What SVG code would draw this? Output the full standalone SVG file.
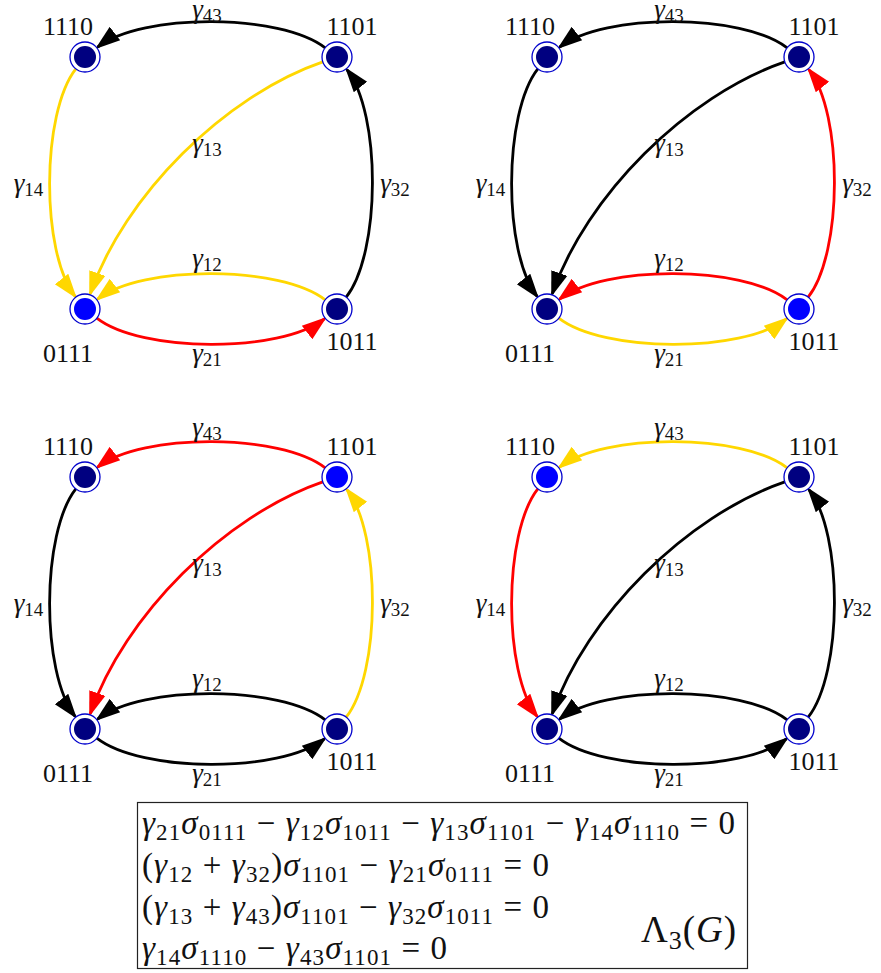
<svg xmlns="http://www.w3.org/2000/svg" width="881" height="973" viewBox="0 0 881 973">
<style>
.e{fill:none;stroke-width:2.8}
.k{stroke:#000}.r{stroke:#FF0000}.y{stroke:#FFD700}
.k{marker-end:url(#ah-k)}.r{marker-end:url(#ah-r)}.y{marker-end:url(#ah-y)}
.ring{fill:#fff;stroke:#0000CD;stroke-width:1.3}
.dot{fill:#000080}.hl{fill:#0000FF}
.nl{font-family:"Liberation Serif","Times New Roman",serif;font-size:26px;text-anchor:middle;fill:#111}
.el{font-family:"Liberation Serif","Times New Roman",serif;font-size:27px;text-anchor:middle;fill:#111}
.i{font-style:italic}
.sb{font-size:19px}
.eq{font-family:"Liberation Serif","Times New Roman",serif;font-size:33px;fill:#111}
.es{font-size:23px}
</style>
<defs>
<marker id="ah-k" markerUnits="userSpaceOnUse" markerWidth="28" markerHeight="20" viewBox="0 0 28 20" refX="22" refY="10" orient="auto"><path d="M0,1.5 L25,10 L0,18.5 Z" fill="#000"/></marker>
<marker id="ah-r" markerUnits="userSpaceOnUse" markerWidth="28" markerHeight="20" viewBox="0 0 28 20" refX="22" refY="10" orient="auto"><path d="M0,1.5 L25,10 L0,18.5 Z" fill="#FF0000"/></marker>
<marker id="ah-y" markerUnits="userSpaceOnUse" markerWidth="28" markerHeight="20" viewBox="0 0 28 20" refX="22" refY="10" orient="auto"><path d="M0,1.5 L25,10 L0,18.5 Z" fill="#FFD700"/></marker>
</defs>
<rect width="881" height="973" fill="#fff"/>

<!-- Panel top-left -->
<g id="panel-tl">
<g id="tl-connectors">
<path class="e k" d="M325.2,47.8 C281.1,13.3 141.7,12.7 97.6,47.1"/>
<path class="e y" d="M322.8,61.9 C224.5,95.8 124.1,195.6 90.2,293.9"/>
<path class="e y" d="M75.8,68.8 C41.3,113 40.7,252.3 75.1,296.4"/>
<path class="e k" d="M346.2,297.2 C380.7,253.1 381.4,113.7 346.9,69.6"/>
<path class="e y" d="M325.2,299.8 C281.1,265.3 141.7,264.7 97.6,299.1"/>
<path class="e r" d="M96.8,318.2 C141,352.7 280.3,353.4 324.4,318.9"/>
</g>
<g id="tl-edge-labels">
<text class="el" x="207" y="18"><tspan class="i">γ</tspan><tspan class="sb" dy="4">43</tspan></text>
<text class="el" x="207" y="151.5"><tspan class="i">γ</tspan><tspan class="sb" dy="4">13</tspan></text>
<text class="el" x="28.5" y="191.5"><tspan class="i">γ</tspan><tspan class="sb" dy="4">14</tspan></text>
<text class="el" x="395" y="192"><tspan class="i">γ</tspan><tspan class="sb" dy="4">32</tspan></text>
<text class="el" x="207" y="266.5"><tspan class="i">γ</tspan><tspan class="sb" dy="4">12</tspan></text>
<text class="el" x="207" y="361.5"><tspan class="i">γ</tspan><tspan class="sb" dy="4">21</tspan></text>
</g>
<g id="tl-n1110"><circle class="ring" cx="85" cy="57" r="15"/><circle class="dot" cx="85" cy="57" r="11"/><text class="nl" x="68" y="35">1110</text></g>
<g id="tl-n1101"><circle class="ring" cx="337" cy="57" r="15"/><circle class="dot" cx="337" cy="57" r="11"/><text class="nl" x="352" y="35">1101</text></g>
<g id="tl-n0111"><circle class="ring" cx="85" cy="309" r="15"/><circle class="hl" cx="85" cy="309" r="11"/><text class="nl" x="68" y="362">0111</text></g>
<g id="tl-n1011"><circle class="ring" cx="337" cy="309" r="15"/><circle class="dot" cx="337" cy="309" r="11"/><text class="nl" x="352" y="350">1011</text></g>
</g>

<!-- Panel top-right -->
<g id="panel-tr" transform="translate(462,0)">
<g id="tr-connectors">
<path class="e k" d="M325.2,47.8 C281.1,13.3 141.7,12.7 97.6,47.1"/>
<path class="e k" d="M322.8,61.9 C224.5,95.8 124.1,195.6 90.2,293.9"/>
<path class="e k" d="M75.8,68.8 C41.3,113 40.7,252.3 75.1,296.4"/>
<path class="e r" d="M346.2,297.2 C380.7,253.1 381.4,113.7 346.9,69.6"/>
<path class="e r" d="M325.2,299.8 C281.1,265.3 141.7,264.7 97.6,299.1"/>
<path class="e y" d="M96.8,318.2 C141,352.7 280.3,353.4 324.4,318.9"/>
</g>
<g id="tr-edge-labels">
<text class="el" x="207" y="18"><tspan class="i">γ</tspan><tspan class="sb" dy="4">43</tspan></text>
<text class="el" x="207" y="151.5"><tspan class="i">γ</tspan><tspan class="sb" dy="4">13</tspan></text>
<text class="el" x="28.5" y="191.5"><tspan class="i">γ</tspan><tspan class="sb" dy="4">14</tspan></text>
<text class="el" x="395" y="192"><tspan class="i">γ</tspan><tspan class="sb" dy="4">32</tspan></text>
<text class="el" x="207" y="266.5"><tspan class="i">γ</tspan><tspan class="sb" dy="4">12</tspan></text>
<text class="el" x="207" y="361.5"><tspan class="i">γ</tspan><tspan class="sb" dy="4">21</tspan></text>
</g>
<g id="tr-n1110"><circle class="ring" cx="85" cy="57" r="15"/><circle class="dot" cx="85" cy="57" r="11"/><text class="nl" x="68" y="35">1110</text></g>
<g id="tr-n1101"><circle class="ring" cx="337" cy="57" r="15"/><circle class="dot" cx="337" cy="57" r="11"/><text class="nl" x="352" y="35">1101</text></g>
<g id="tr-n0111"><circle class="ring" cx="85" cy="309" r="15"/><circle class="dot" cx="85" cy="309" r="11"/><text class="nl" x="68" y="362">0111</text></g>
<g id="tr-n1011"><circle class="ring" cx="337" cy="309" r="15"/><circle class="hl" cx="337" cy="309" r="11"/><text class="nl" x="352" y="350">1011</text></g>
</g>

<!-- Panel bottom-left -->
<g id="panel-bl" transform="translate(0,420)">
<g id="bl-connectors">
<path class="e r" d="M325.2,47.8 C281.1,13.3 141.7,12.7 97.6,47.1"/>
<path class="e r" d="M322.8,61.9 C224.5,95.8 124.1,195.6 90.2,293.9"/>
<path class="e k" d="M75.8,68.8 C41.3,113 40.7,252.3 75.1,296.4"/>
<path class="e y" d="M346.2,297.2 C380.7,253.1 381.4,113.7 346.9,69.6"/>
<path class="e k" d="M325.2,299.8 C281.1,265.3 141.7,264.7 97.6,299.1"/>
<path class="e k" d="M96.8,318.2 C141,352.7 280.3,353.4 324.4,318.9"/>
</g>
<g id="bl-edge-labels">
<text class="el" x="207" y="16"><tspan class="i">γ</tspan><tspan class="sb" dy="4">43</tspan></text>
<text class="el" x="207" y="151.5"><tspan class="i">γ</tspan><tspan class="sb" dy="4">13</tspan></text>
<text class="el" x="28.5" y="191.5"><tspan class="i">γ</tspan><tspan class="sb" dy="4">14</tspan></text>
<text class="el" x="395" y="192"><tspan class="i">γ</tspan><tspan class="sb" dy="4">32</tspan></text>
<text class="el" x="207" y="266.5"><tspan class="i">γ</tspan><tspan class="sb" dy="4">12</tspan></text>
<text class="el" x="207" y="361.5"><tspan class="i">γ</tspan><tspan class="sb" dy="4">21</tspan></text>
</g>
<g id="bl-n1110"><circle class="ring" cx="85" cy="57" r="15"/><circle class="dot" cx="85" cy="57" r="11"/><text class="nl" x="68" y="35">1110</text></g>
<g id="bl-n1101"><circle class="ring" cx="337" cy="57" r="15"/><circle class="hl" cx="337" cy="57" r="11"/><text class="nl" x="352" y="35">1101</text></g>
<g id="bl-n0111"><circle class="ring" cx="85" cy="309" r="15"/><circle class="dot" cx="85" cy="309" r="11"/><text class="nl" x="68" y="362">0111</text></g>
<g id="bl-n1011"><circle class="ring" cx="337" cy="309" r="15"/><circle class="dot" cx="337" cy="309" r="11"/><text class="nl" x="352" y="350">1011</text></g>
</g>

<!-- Panel bottom-right -->
<g id="panel-br" transform="translate(462,420)">
<g id="br-connectors">
<path class="e y" d="M325.2,47.8 C281.1,13.3 141.7,12.7 97.6,47.1"/>
<path class="e k" d="M322.8,61.9 C224.5,95.8 124.1,195.6 90.2,293.9"/>
<path class="e r" d="M75.8,68.8 C41.3,113 40.7,252.3 75.1,296.4"/>
<path class="e k" d="M346.2,297.2 C380.7,253.1 381.4,113.7 346.9,69.6"/>
<path class="e k" d="M325.2,299.8 C281.1,265.3 141.7,264.7 97.6,299.1"/>
<path class="e k" d="M96.8,318.2 C141,352.7 280.3,353.4 324.4,318.9"/>
</g>
<g id="br-edge-labels">
<text class="el" x="207" y="16"><tspan class="i">γ</tspan><tspan class="sb" dy="4">43</tspan></text>
<text class="el" x="207" y="151.5"><tspan class="i">γ</tspan><tspan class="sb" dy="4">13</tspan></text>
<text class="el" x="28.5" y="191.5"><tspan class="i">γ</tspan><tspan class="sb" dy="4">14</tspan></text>
<text class="el" x="395" y="192"><tspan class="i">γ</tspan><tspan class="sb" dy="4">32</tspan></text>
<text class="el" x="207" y="266.5"><tspan class="i">γ</tspan><tspan class="sb" dy="4">12</tspan></text>
<text class="el" x="207" y="361.5"><tspan class="i">γ</tspan><tspan class="sb" dy="4">21</tspan></text>
</g>
<g id="br-n1110"><circle class="ring" cx="85" cy="57" r="15"/><circle class="hl" cx="85" cy="57" r="11"/><text class="nl" x="68" y="35">1110</text></g>
<g id="br-n1101"><circle class="ring" cx="337" cy="57" r="15"/><circle class="dot" cx="337" cy="57" r="11"/><text class="nl" x="352" y="35">1101</text></g>
<g id="br-n0111"><circle class="ring" cx="85" cy="309" r="15"/><circle class="dot" cx="85" cy="309" r="11"/><text class="nl" x="68" y="362">0111</text></g>
<g id="br-n1011"><circle class="ring" cx="337" cy="309" r="15"/><circle class="dot" cx="337" cy="309" r="11"/><text class="nl" x="352" y="350">1011</text></g>
</g>

<!-- Equation box -->
<g id="equations">
<rect x="137.5" y="802.5" width="610" height="166" fill="#fff" stroke="#222" stroke-width="1.2"/>
<text class="eq" x="142" y="834" textLength="593" lengthAdjust="spacing"><tspan class="i">γ</tspan><tspan class="es" dy="6">21</tspan><tspan class="i" dy="-6">σ</tspan><tspan class="es" dy="6">0111</tspan><tspan dy="-6"> − </tspan><tspan class="i">γ</tspan><tspan class="es" dy="6">12</tspan><tspan class="i" dy="-6">σ</tspan><tspan class="es" dy="6">1011</tspan><tspan dy="-6"> − </tspan><tspan class="i">γ</tspan><tspan class="es" dy="6">13</tspan><tspan class="i" dy="-6">σ</tspan><tspan class="es" dy="6">1101</tspan><tspan dy="-6"> − </tspan><tspan class="i">γ</tspan><tspan class="es" dy="6">14</tspan><tspan class="i" dy="-6">σ</tspan><tspan class="es" dy="6">1110</tspan><tspan dy="-6"> = 0</tspan></text>
<text class="eq" x="142" y="876" textLength="407" lengthAdjust="spacing"><tspan>(</tspan><tspan class="i">γ</tspan><tspan class="es" dy="6">12</tspan><tspan dy="-6"> + </tspan><tspan class="i">γ</tspan><tspan class="es" dy="6">32</tspan><tspan dy="-6">)</tspan><tspan class="i">σ</tspan><tspan class="es" dy="6">1101</tspan><tspan dy="-6"> − </tspan><tspan class="i">γ</tspan><tspan class="es" dy="6">21</tspan><tspan class="i" dy="-6">σ</tspan><tspan class="es" dy="6">0111</tspan><tspan dy="-6"> = 0</tspan></text>
<text class="eq" x="142" y="918" textLength="407" lengthAdjust="spacing"><tspan>(</tspan><tspan class="i">γ</tspan><tspan class="es" dy="6">13</tspan><tspan dy="-6"> + </tspan><tspan class="i">γ</tspan><tspan class="es" dy="6">43</tspan><tspan dy="-6">)</tspan><tspan class="i">σ</tspan><tspan class="es" dy="6">1101</tspan><tspan dy="-6"> − </tspan><tspan class="i">γ</tspan><tspan class="es" dy="6">32</tspan><tspan class="i" dy="-6">σ</tspan><tspan class="es" dy="6">1011</tspan><tspan dy="-6"> = 0</tspan></text>
<text class="eq" x="142" y="959" textLength="305" lengthAdjust="spacing"><tspan class="i">γ</tspan><tspan class="es" dy="6">14</tspan><tspan class="i" dy="-6">σ</tspan><tspan class="es" dy="6">1110</tspan><tspan dy="-6"> − </tspan><tspan class="i">γ</tspan><tspan class="es" dy="6">43</tspan><tspan class="i" dy="-6">σ</tspan><tspan class="es" dy="6">1101</tspan><tspan dy="-6"> = 0</tspan></text>
<text class="eq" x="641" y="942" style="font-size:37px" textLength="95" lengthAdjust="spacing"><tspan>Λ</tspan><tspan dy="7" style="font-size:26px">3</tspan><tspan dy="-7">(</tspan><tspan class="i">G</tspan><tspan>)</tspan></text>
</g>
</svg>
